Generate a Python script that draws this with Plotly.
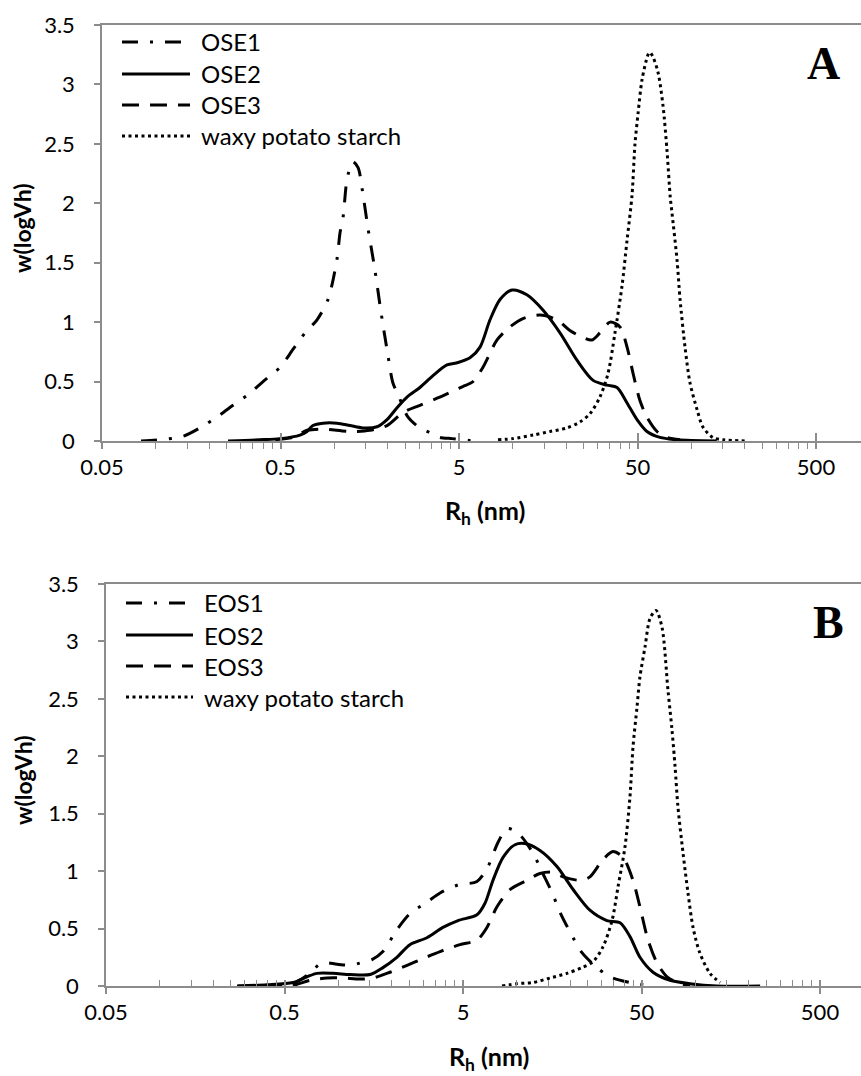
import math
import plotly.graph_objects as go

# ---------------- data: hydrodynamic radius Rh (nm) vs w(logVh) ----------------
# Panel A
OSE1_RH = [0.0827, 0.106, 0.142, 0.177, 0.229, 0.271, 0.329, 0.399, 0.497, 0.587, 0.686, 0.801,
           0.923, 1.036, 1.077, 1.12, 1.164, 1.194, 1.27, 1.36, 1.43, 1.546, 1.69, 1.83, 2.0,
           2.13, 2.28, 2.59, 3.02, 3.44, 3.91, 4.57, 5.3, 6.0]
OSE1_W = [0, 0.01, 0.04, 0.11, 0.22, 0.30, 0.39, 0.50, 0.62, 0.77, 0.91, 1.02,
          1.19, 1.53, 1.75, 1.88, 2.14, 2.24, 2.35, 2.30, 2.13, 1.79, 1.44, 1.08, 0.72,
          0.49, 0.39, 0.20, 0.11, 0.07, 0.03, 0.02, 0.01, 0.0]

OSE2_RH = [0.254, 0.384, 0.497, 0.643, 0.704, 0.760, 0.865, 1.036, 1.225, 1.45, 1.736, 1.976,
           2.248, 2.557, 3.02, 3.575, 4.28, 4.94, 5.76, 6.56, 7.46, 8.49, 9.91, 12.0, 14.8,
           18.4, 22.9, 28.2, 33.7, 38.4, 43.7, 49.7, 56.5, 66.8, 83.3, 139]
OSE2_W = [0, 0.01, 0.02, 0.05, 0.08, 0.13, 0.15, 0.15, 0.13, 0.11, 0.12, 0.18,
          0.28, 0.37, 0.45, 0.55, 0.64, 0.66, 0.70, 0.79, 1.02, 1.19, 1.27, 1.23, 1.10,
          0.91, 0.68, 0.51, 0.47, 0.45, 0.32, 0.18, 0.08, 0.03, 0.01, 0]

OSE3_RH = [0.325, 0.587, 0.704, 0.865, 1.225, 1.586, 1.976, 2.43, 3.02, 3.77, 4.94, 5.28, 5.99,
           6.81, 8.17, 9.66, 11.4, 14.2, 17.7, 20.9, 24.8, 27.8, 30.8, 35.1, 39.9, 43.7, 47.2,
           51.6, 56.5, 64.3, 73.1, 86.6]
OSE3_W = [0, 0.03, 0.09, 0.10, 0.08, 0.09, 0.13, 0.24, 0.30, 0.36, 0.44, 0.46, 0.50,
          0.62, 0.85, 0.96, 1.03, 1.06, 1.02, 0.93, 0.87, 0.85, 0.91, 1.00, 0.96, 0.79, 0.57,
          0.34, 0.20, 0.08, 0.03, 0.01]

WAXY_A_RH = [8.27, 10.0, 13.0, 16.2, 20.1, 23.8, 27.1, 30.8, 34.2, 37.4, 40.9, 43.7, 46.6, 48.4,
             50.4, 53.0, 57.3, 58.7, 61.1, 65.2, 69.5, 73.1, 76.3, 78.0, 83.3, 86.6, 92.3, 98.4,
             108, 116, 132, 151, 205]
WAXY_A_W = [0.01, 0.02, 0.05, 0.08, 0.11, 0.16, 0.23, 0.37, 0.57, 0.91, 1.30, 1.69, 2.07, 2.50,
            2.76, 3.04, 3.25, 3.27, 3.23, 3.10, 2.82, 2.45, 2.05, 1.92, 1.52, 1.19, 0.79, 0.49,
            0.26, 0.12, 0.03, 0.01, 0]

# Panel B
EOS1_RH = [0.320, 0.472, 0.573, 0.677, 0.811, 0.984, 1.164, 1.324, 1.546, 1.78, 2.13, 2.52, 3.14,
           3.72, 4.69, 5.99, 6.90, 7.85, 8.82, 10.2, 12.3, 14.0, 15.8, 17.5, 19.9, 23.2, 28.2,
           33.3, 43.1, 58.0]
EOS1_W = [0, 0.01, 0.03, 0.10, 0.20, 0.19, 0.18, 0.20, 0.23, 0.30, 0.49, 0.63, 0.73,
          0.81, 0.88, 0.91, 1.04, 1.25, 1.37, 1.33, 1.16, 0.98, 0.81, 0.64, 0.47, 0.29, 0.16,
          0.08, 0.03, 0]

EOS2_RH = [0.274, 0.399, 0.558, 0.668, 0.760, 0.935, 1.164, 1.51, 1.78, 2.13, 2.52, 3.14, 3.86,
           4.69, 5.99, 6.64, 7.36, 8.38, 9.78, 11.1, 13.5, 16.8, 20.7, 25.7, 32.0, 37.9, 43.1,
           49.0, 58.0, 72.2, 93.5, 132, 231]
EOS2_W = [0, 0.01, 0.03, 0.08, 0.11, 0.11, 0.10, 0.10, 0.16, 0.25, 0.36, 0.42, 0.51,
          0.57, 0.62, 0.72, 0.92, 1.12, 1.23, 1.24, 1.18, 1.04, 0.84, 0.66, 0.57, 0.55, 0.43,
          0.25, 0.12, 0.05, 0.02, 0, 0]

EOS3_RH = [0.271, 0.537, 0.695, 0.865, 1.064, 1.324, 1.566, 1.95, 2.43, 2.99, 3.72, 4.81, 5.99,
           6.81, 7.75, 9.17, 11.4, 13.5, 16.0, 18.2, 22.6, 25.7, 30.4, 34.6, 39.4, 44.8, 49.0,
           54.4, 61.1, 69.5, 79.1, 93.5]
EOS3_W = [0, 0, 0.05, 0.07, 0.07, 0.06, 0.07, 0.12, 0.18, 0.24, 0.30, 0.36, 0.40,
          0.51, 0.69, 0.84, 0.92, 0.98, 0.99, 0.95, 0.92, 0.95, 1.10, 1.17, 1.12, 0.92, 0.69,
          0.40, 0.20, 0.08, 0.03, 0]

WAXY_B_RH = [8.27, 10.0, 12.3, 15.4, 19.1, 23.2, 26.7, 30.4, 34.2, 36.9, 40.4, 43.1, 44.8, 47.2,
             49.0, 52.3, 55.8, 60.3, 65.2, 70.3, 74.1, 77.1, 80.0, 85.4, 91.1, 97.2, 106, 121, 138]
WAXY_B_W = [0, 0.02, 0.03, 0.07, 0.11, 0.16, 0.21, 0.34, 0.57, 0.86, 1.21, 1.65, 2.08, 2.43,
            2.69, 2.95, 3.20, 3.27, 3.12, 2.58, 2.23, 1.91, 1.56, 1.16, 0.81, 0.51, 0.29, 0.11, 0.03]

X_TICK_VALS = [0.05, 0.5, 5, 50, 500]
X_TICK_TEXT = ["0.05", "0.5", "5", "50", "500"]
Y_TICK_VALS = [0, 0.5, 1, 1.5, 2, 2.5, 3, 3.5]
Y_TICK_TEXT = ["0", "0.5", "1", "1.5", "2", "2.5", "3", "3.5"]

# ---------------- styling ----------------
W, H = 861, 1076
GREY = "#8c8c8c"
FONT = "Lato"
DASHDOT = "16px,12px,3px,12px"
DASH = "17px,11px"
DOT = "3px,3.5px"
LW = 3

# minor ticks at 2..9 x each major value
MINOR_VALS = [k * m for m in (0.05, 0.5, 5, 50) for k in range(2, 10)]


def fx(p):
    return p / W


def fy(p):
    return 1 - p / H


panels = [
    dict(x="x", y="y", xo="x3", left=102, top=25, bottom=441, letter="A",
         minor_dir="outside",
         series=[("OSE1", OSE1_RH, OSE1_W, DASHDOT),
                 ("OSE2", OSE2_RH, OSE2_W, "solid"),
                 ("OSE3", OSE3_RH, OSE3_W, DASH),
                 ("waxy potato starch", WAXY_A_RH, WAXY_A_W, DOT)],
         leg_rows=[42, 74, 105, 136], leg_x0=122, leg_x1=190, leg_tx=199,
         letter_xy=(823, 64), ytitle_xy=(22, 228), xtitle_xy=(485, 512)),
    dict(x="x2", y="y2", xo="x4", left=106, top=584, bottom=986, letter="B",
         minor_dir="inside",
         series=[("EOS1", EOS1_RH, EOS1_W, DASHDOT),
                 ("EOS2", EOS2_RH, EOS2_W, "solid"),
                 ("EOS3", EOS3_RH, EOS3_W, DASH),
                 ("waxy potato starch", WAXY_B_RH, WAXY_B_W, DOT)],
         leg_rows=[603, 635, 666, 697], leg_x0=126, leg_x1=193, leg_tx=202,
         letter_xy=(828, 622), ytitle_xy=(23, 780), xtitle_xy=(489, 1058)),
]

DECADE_PX = 178.5

fig = go.Figure()
layout = dict(
    width=W, height=H,
    margin=dict(l=0, r=0, t=0, b=0, autoexpand=False),
    paper_bgcolor="white", plot_bgcolor="white",
    showlegend=False,
    font=dict(family=FONT, color="black"),
)
shapes = []
annotations = []

for i, p in enumerate(panels):
    xa = "xaxis" if p["x"] == "x" else "xaxis2"
    ya = "yaxis" if p["y"] == "y" else "yaxis2"
    xo = "xaxis3" if p["xo"] == "x3" else "xaxis4"
    lo = math.log10(0.05)
    hi = lo + (W - p["left"]) / DECADE_PX
    dom_x = [p["left"] / W, 1.0]
    dom_y = [1 - p["bottom"] / H, 1 - p["top"] / H]

    for name, xs, ys, dash in p["series"]:
        fig.add_trace(go.Scatter(
            x=xs, y=ys, name=name, mode="lines",
            line=dict(color="black", width=LW, dash=dash, shape="spline", smoothing=0.8),
            xaxis=p["x"], yaxis=p["y"], hoverinfo="skip", showlegend=False))
    # holder trace for the overlay axis carrying the upper half of the major ticks
    fig.add_trace(go.Scatter(x=[], y=[], xaxis=p["xo"], yaxis=p["y"], showlegend=False))

    layout[xa] = dict(
        domain=dom_x, anchor=p["y"], type="log", range=[lo, hi], automargin=False,
        tickmode="array", tickvals=X_TICK_VALS, ticktext=X_TICK_TEXT,
        ticks="outside", ticklen=6, tickwidth=1.5, tickcolor=GREY,
        showline=True, linecolor=GREY, linewidth=1.5, mirror=True,
        showgrid=False, zeroline=False,
        tickfont=dict(family=FONT, size=22, color="black"),
        minor=dict(tickmode="array", tickvals=MINOR_VALS, ticks=p["minor_dir"],
                   ticklen=6, tickwidth=1, tickcolor=GREY, showgrid=False),
    )
    layout[xo] = dict(
        overlaying=p["x"], anchor=p["y"], type="log", range=[lo, hi], automargin=False,
        tickmode="array", tickvals=X_TICK_VALS,
        ticks="inside", ticklen=8 if i == 0 else 6, tickwidth=1.5, tickcolor=GREY,
        showticklabels=False, showline=False, showgrid=False, zeroline=False,
    )
    layout[ya] = dict(
        domain=dom_y, anchor=p["x"], range=[0, 3.5], automargin=False,
        tickmode="array", tickvals=Y_TICK_VALS, ticktext=Y_TICK_TEXT,
        ticks="outside", ticklen=6, tickwidth=1.5, tickcolor=GREY,
        showline=True, linecolor=GREY, linewidth=1.5,
        showgrid=False, zeroline=False,
        tickfont=dict(family=FONT, size=22, color="black"),
        ticklabelposition="outside", ticklabelstandoff=15,
    )

    # legend block
    for row, (name, _, _, dash) in zip(p["leg_rows"], p["series"]):
        shapes.append(dict(type="line", xref="paper", yref="paper",
                           x0=fx(p["leg_x0"]), x1=fx(p["leg_x1"]), y0=fy(row), y1=fy(row),
                           line=dict(color="black", width=LW, dash=dash)))
        annotations.append(dict(x=fx(p["leg_tx"]), y=fy(row), xref="paper", yref="paper",
                                text=name, showarrow=False, xanchor="left", yanchor="middle",
                                font=dict(family=FONT, size=24, color="black")))

    lx, ly = p["letter_xy"]
    annotations.append(dict(x=fx(lx), y=fy(ly), xref="paper", yref="paper", text=f"<b>{p['letter']}</b>",
                            showarrow=False, xanchor="center", yanchor="middle",
                            font=dict(family="Liberation Serif", size=46, color="black")))
    tx, ty = p["ytitle_xy"]
    annotations.append(dict(x=fx(tx), y=fy(ty), xref="paper", yref="paper", text="<b>w(logVh)</b>",
                            showarrow=False, textangle=-90, xanchor="center", yanchor="middle",
                            font=dict(family=FONT, size=23, color="black")))
    tx, ty = p["xtitle_xy"]
    annotations.append(dict(x=fx(tx), y=fy(ty), xref="paper", yref="paper",
                            text="<b>R<sub>h</sub> (nm)</b>",
                            showarrow=False, xanchor="center", yanchor="middle",
                            font=dict(family=FONT, size=25, color="black")))

layout["shapes"] = shapes
layout["annotations"] = annotations
fig.update_layout(**layout)
fig.write_html("out.html")
